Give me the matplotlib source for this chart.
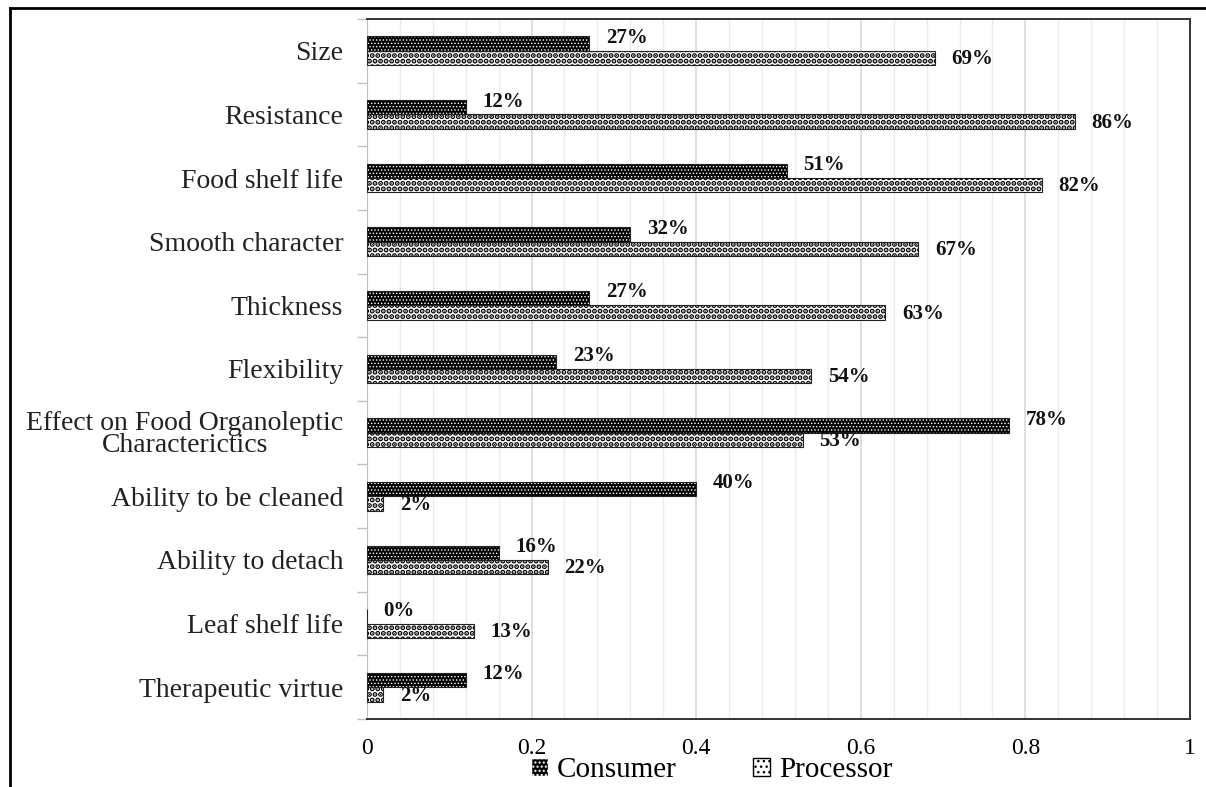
import numpy as np
import matplotlib
matplotlib.use("Agg")
import matplotlib.pyplot as plt
from matplotlib.lines import Line2D
from matplotlib.patches import Patch

# data (shares, top to bottom)
categories = ["Size", "Resistance", "Food shelf life", "Smooth character",
              "Thickness", "Flexibility",
              "Effect on Food Organoleptic\nCharacterictics",
              "Ability to be cleaned", "Ability to detach",
              "Leaf shelf life", "Therapeutic virtue"]
consumer = [0.27, 0.12, 0.51, 0.32, 0.27, 0.23, 0.78, 0.40, 0.16, 0.00, 0.12]
processor = [0.69, 0.86, 0.82, 0.67, 0.63, 0.54, 0.53, 0.02, 0.22, 0.13, 0.02]
xticks = [0, 0.2, 0.4, 0.6, 0.8, 1.0]
xtick_labels = ["0", "0.2", "0.4", "0.6", "0.8", "1"]

plt.rcParams['font.family'] = ['Liberation Serif', 'DejaVu Serif']


def hatch_lw(patches, lw):
    # per-patch hatch width where the matplotlib version allows it
    for p in patches:
        if hasattr(p, "set_hatch_linewidth"):
            p.set_hatch_linewidth(lw)


fig = plt.figure(figsize=(12.06, 7.87), dpi=100)
ax = fig.add_axes([0.3043, 0.0864, 0.9867 - 0.3043, 0.9759 - 0.0864])

n = len(categories)
y = np.arange(n)
h = 0.225

# consumer: dark bar with fine white dots
with plt.rc_context({'hatch.linewidth': 0.6}):
    cb = ax.barh(y - h / 2, consumer, height=h, color="black", edgecolor="white",
                 hatch=".....", linewidth=0, zorder=3)
    cons_handle = Patch(facecolor="black", edgecolor="white", hatch="....")
hatch_lw(cb, 0.6)
hatch_lw([cons_handle], 0.6)
# processor: white bar with coarse black dots
with plt.rc_context({'hatch.linewidth': 2.6}):
    pb = ax.barh(y + h / 2, processor, height=h, color="white", edgecolor="black",
                 hatch="...", linewidth=0, zorder=3)
    proc_handle = Patch(facecolor="white", edgecolor="black", hatch="...")
hatch_lw(pb, 2.6)
hatch_lw([proc_handle], 2.6)
ax.barh(y - h / 2, consumer, height=h, fill=False, edgecolor="#222222",
        linewidth=0.8, zorder=4)
ax.barh(y + h / 2, processor, height=h, fill=False, edgecolor="#222222",
        linewidth=0.8, zorder=4)

for i in range(n):
    ax.text(consumer[i] + 0.02, y[i] - h / 2 - 0.09, f"{consumer[i]*100:.0f}%",
            fontsize=15, fontweight="bold", va="center", ha="left",
            color="#111111", zorder=5)
    ax.text(processor[i] + 0.02, y[i] + h / 2 + 0.02, f"{processor[i]*100:.0f}%",
            fontsize=15, fontweight="bold", va="center", ha="left",
            color="#111111", zorder=5)

ax.set_xlim(0, 1)
ax.set_ylim(n - 0.5, -0.5)

ax.set_xticks(xticks)
ax.set_xticklabels(xtick_labels, fontsize=17)
ax.set_xticks(np.arange(0, 1.0001, 0.04), minor=True)
ax.tick_params(axis="x", which="both", length=0, pad=14)
ax.grid(axis="x", which="minor", color="#ececec", linewidth=1, zorder=0)
ax.grid(axis="x", which="major", color="#d9d9d9", linewidth=1.2, zorder=0)

ax.set_yticks(y)
ax.set_yticklabels(categories, fontsize=20, color="#222222", linespacing=0.85)
for lab in ax.get_yticklabels():
    lab.set_multialignment("center")
ax.tick_params(axis="y", which="major", length=0, pad=17)
ax.set_yticks(np.arange(-0.5, n, 1.0), minor=True)
ax.tick_params(axis="y", which="minor", length=7, color="#bfbfbf", width=1)

ax.spines["left"].set_color("#bfbfbf")
for s in ["top", "right", "bottom"]:
    ax.spines[s].set_color("#333333")
    ax.spines[s].set_linewidth(1.4)

fig.legend([cons_handle, proc_handle], ["Consumer", "Processor"], loc="center",
           bbox_to_anchor=(0.59, 0.021), ncol=2, frameon=False,
           fontsize=21, handlelength=0.6, handleheight=0.6,
           handletextpad=0.3, columnspacing=2.6)

# outer frame lines (top and left)
fig.add_artist(Line2D([0.0083, 1.0], [0.9898, 0.9898], color="black", lw=2))
fig.add_artist(Line2D([0.0083, 0.0083], [0.0, 0.9898], color="black", lw=2))

fig.savefig("out.png", dpi=100)
